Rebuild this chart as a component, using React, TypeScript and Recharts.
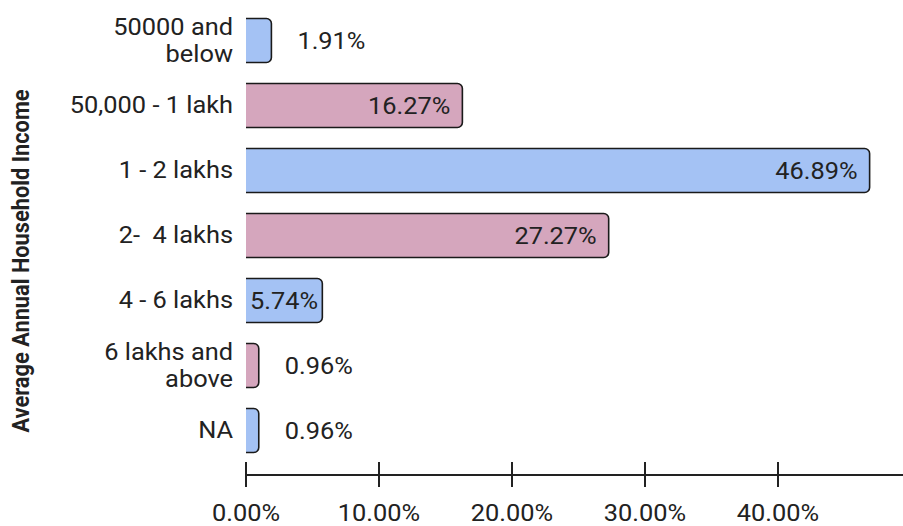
import { Bar, BarChart, Cell, Label, LabelList, XAxis, YAxis } from "recharts";

const categories = [
  "50000 and\nbelow",
  "50,000 - 1 lakh",
  "1 - 2 lakhs",
  "2-  4 lakhs",
  "4 - 6 lakhs",
  "6 lakhs and\nabove",
  "NA",
];
const shares = [1.91, 16.27, 46.89, 27.27, 5.74, 0.96, 0.96];
const xTicks = [0, 10, 20, 30, 40];
const barColors = ["#a4c2f4", "#d5a6bd"];

const data = categories.map((name, i) => ({ name, share: shares[i] }));

// text in the reference is a touch wider than plain Roboto
const SX = 1.08;
const FS = 23.5;
const FONT = "Roboto, sans-serif";
const INK = "#222";

const pct = (v: number) => `${v.toFixed(2)}%`;

function textWidth(s: string) {
  let w = 0;
  for (const ch of s) w += ch === "." ? 6.8 : ch === "%" ? 19 : 14.6;
  return w;
}

function RoundBar(props: any) {
  const { x, y, width, height, fill } = props;
  if (!width || !height) return null;
  const r = Math.min(5, width / 2, height / 2);
  const right = x + width;
  const d =
    `M${x},${y} H${right - r} A${r},${r} 0 0 1 ${right},${y + r} ` +
    `V${y + height - r} A${r},${r} 0 0 1 ${right - r},${y + height} H${x}`;
  return (
    <g>
      <path d={d + " Z"} fill={fill} />
      <path d={d} fill="none" stroke="#1a1a1a" strokeWidth={1.6} />
    </g>
  );
}

function ValueLabel(props: any) {
  const { x, y, width, height, value } = props;
  const s = pct(Number(value));
  const tw = textWidth(s);
  let tx = x + width + 26;
  let anchor: "start" | "end" = "start";
  if (width >= tw + 24) {
    tx = x + width - 12;
    anchor = "end";
  } else if (width >= tw + 6) {
    tx = x + 4;
  }
  return (
    <text
      transform={`translate(${tx},${y + height / 2 + 8}) scale(${SX},1)`}
      textAnchor={anchor}
      fontFamily={FONT}
      fontSize={FS}
      fill={INK}
    >
      {s}
    </text>
  );
}

function YTick(props: any) {
  const { x, y, payload } = props;
  const lines = String(payload.value).split("\n");
  return (
    <g>
      {lines.map((ln, i) => (
        <text
          key={i}
          transform={`translate(${x},${y + (i - (lines.length - 1) / 2) * 27 + 8}) scale(${SX},1)`}
          textAnchor="end"
          fontFamily={FONT}
          fontSize={FS}
          fill={INK}
          xmlSpace="preserve"
          style={{ whiteSpace: "pre" }}
        >
          {ln}
        </text>
      ))}
    </g>
  );
}

function XTick(props: any) {
  const { x, y, payload } = props;
  return (
    <g>
      <line x1={x} x2={x} y1={y - 13} y2={y + 12} stroke={INK} strokeWidth={2} />
      <text
        transform={`translate(${x},${y + 46}) scale(${SX},1)`}
        textAnchor="middle"
        fontFamily={FONT}
        fontSize={FS}
        fill={INK}
      >
        {pct(payload.value)}
      </text>
    </g>
  );
}

export default function App() {
  return (
    <div style={{ position: "absolute", left: 0, top: 0, background: "#fff" }}>
      <BarChart
        width={903}
        height={526}
        data={data}
        layout="vertical"
        margin={{ top: 7.5, right: 0, bottom: 0, left: 0 }}
      >
        <XAxis
          type="number"
          domain={[0, 49.4]}
          ticks={xTicks}
          allowDataOverflow
          height={51}
          tickSize={0}
          tickMargin={0}
          tickLine={false}
          axisLine={{ stroke: INK, strokeWidth: 2 }}
          tick={<XTick />}
        />
        <YAxis
          type="category"
          dataKey="name"
          width={246}
          padding={{ top: 0, bottom: 12.5 }}
          tickSize={0}
          tickMargin={13}
          tickLine={false}
          axisLine={false}
          interval={0}
          tick={<YTick />}
        >
          <Label
            content={() => (
              <text
                transform={`translate(21,261) scale(${SX},1) rotate(-90)`}
                textAnchor="middle"
                dominantBaseline="central"
                fontFamily={FONT}
                fontWeight={700}
                fontSize={21.8}
                fill={INK}
              >
                Average Annual Household Income
              </text>
            )}
          />
        </YAxis>
        <Bar dataKey="share" barSize={44} shape={<RoundBar />} isAnimationActive={false}>
          {data.map((_, i) => (
            <Cell key={i} fill={barColors[i % 2]} />
          ))}
          <LabelList dataKey="share" content={<ValueLabel />} />
        </Bar>
      </BarChart>
    </div>
  );
}
